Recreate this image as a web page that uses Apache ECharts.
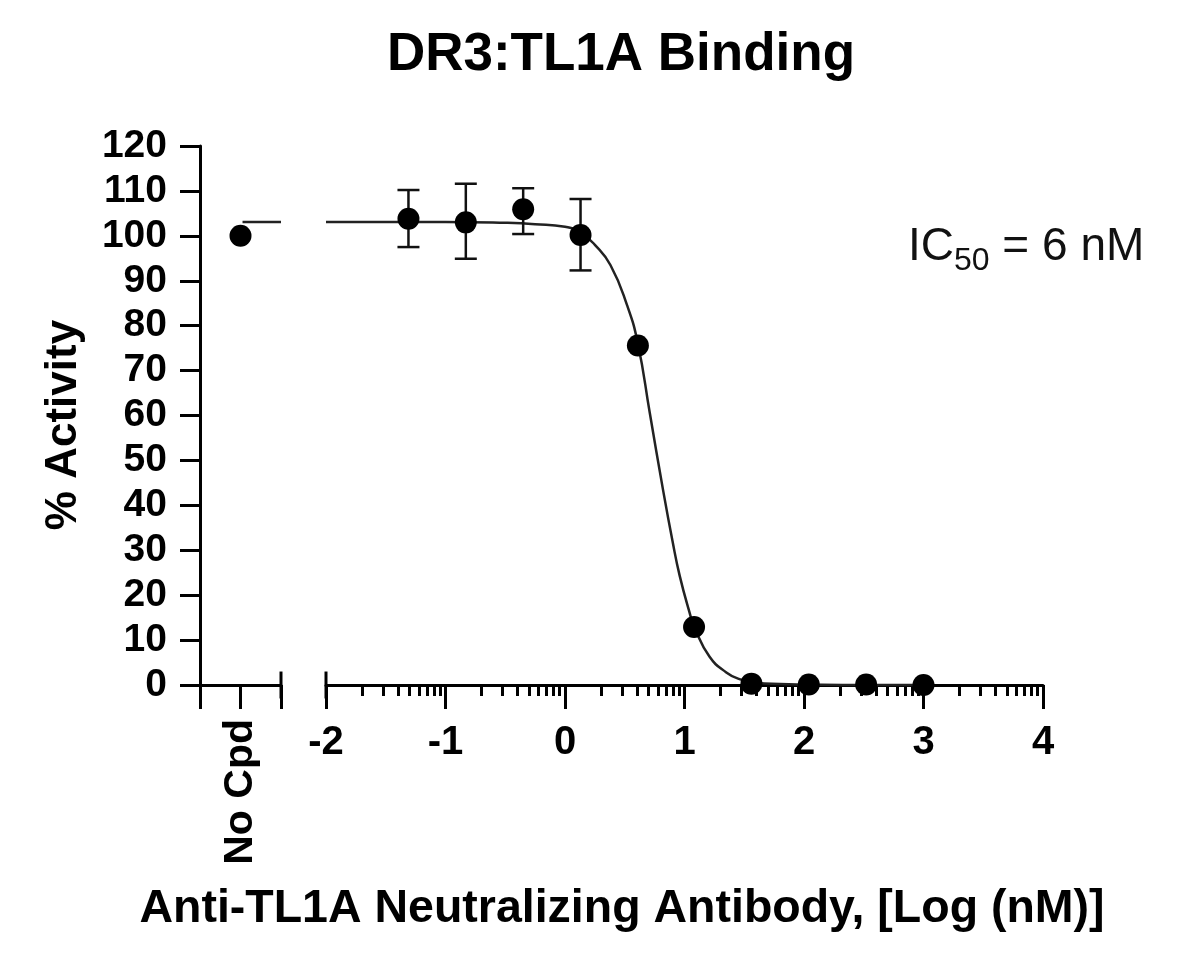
<!DOCTYPE html>
<html>
<head>
<meta charset="utf-8">
<script src="https://cdn.jsdelivr.net/npm/echarts@6/dist/echarts.min.js"></script>
<style>
html,body{margin:0;padding:0;background:#fff;}
#chart{width:1200px;height:956px;}
</style>
</head>
<body>
<div id="chart"></div>
<script>
// ---- data ----
const titleText = 'DR3:TL1A Binding';
const xAxisTitle = 'Anti-TL1A Neutralizing Antibody, [Log (nM)]';
const yAxisTitle = '% Activity';
const noCpdLabel = 'No Cpd';
const icMain = 'IC';
const icSub = '50';
const icRest = ' = 6 nM';

// No compound control
const noCpdX = [1];
const noCpdY = [100];

// Dose points, log(nM)
const logDose = [-1.31, -0.83, -0.35, 0.13, 0.61, 1.08, 1.56, 2.04, 2.52, 3.0];
const activity = [103.8, 103.0, 105.9, 100.2, 75.6, 12.9, 0.3, 0.1, 0.1, 0.0];
const errHigh = [110.2, 111.6, 110.6, 108.2, null, null, null, null, null, null];
const errLow  = [97.5, 94.9, 100.4, 92.3, null, null, null, null, null, null];

// Fitted curve
const curveX = [-2.0, -1.5, -1.0, -0.5, -0.25, 0.0, 0.13, 0.25, 0.38, 0.52, 0.61, 0.71, 0.82, 0.9, 0.96, 1.05, 1.08, 1.21, 1.35, 1.46, 1.6, 1.8, 2.0, 2.5, 3.0];
const curveY = [103.1, 103.1, 103.1, 102.9, 102.6, 102.0, 100.7, 98.0, 93.5, 84.5, 76.0, 60.5, 43.5, 32.0, 24.3, 15.4, 13.0, 6.3, 2.8, 1.3, 0.5, 0.2, 0.1, 0.0, 0.0];
// short stretch of the fit drawn in the "No Cpd" segment
const curve0X = [1.05, 2];
const curve0Y = [103.1, 103.1];

// axis ticks
const yTicks = {min: 0, max: 120, interval: 10};
const xTicks = {min: -2, max: 4, interval: 1};
const decades = [-2, -1, 0, 1, 2, 3];
const minorMultipliers = [2, 3, 4, 5, 6, 7, 8, 9];
const minorTickValues = decades.flatMap(d => minorMultipliers.map(k => d + Math.log10(k)));

const FONT = "'Liberation Sans', Arial, Helvetica, sans-serif";
const BLACK = '#000';

// text measurement for the IC50 annotation pieces
const measureCtx = document.createElement('canvas').getContext('2d');
function textWidth(txt, font) { measureCtx.font = font; return measureCtx.measureText(txt).width; }
const icFontMain = "46px " + FONT;
const icFontSub = "32px " + FONT;
const icLeft = 908;
const wMain = textWidth(icMain, icFontMain);
const wSub = textWidth(icSub, icFontSub);

const chart = echarts.init(document.getElementById('chart'));

const option = {
  animation: false,
  backgroundColor: '#fff',
  title: [
    {
      text: titleText, left: 621, top: 29, textAlign: 'center', padding: 0,
      textStyle: {fontFamily: FONT, fontSize: 53, fontWeight: 'bold', color: BLACK, lineHeight: 53}
    },
    {
      text: xAxisTitle, left: 622, top: 886, textAlign: 'center', padding: 0,
      textStyle: {fontFamily: FONT, fontSize: 46.5, fontWeight: 'bold', color: BLACK, lineHeight: 46}
    }
  ],
  graphic: [
    {
      type: 'text', x: 64, y: 425, rotation: Math.PI / 2,
      style: {text: yAxisTitle, font: "bold 44px " + FONT, fill: BLACK, align: 'center', verticalAlign: 'middle'}
    },
    {
      type: 'text', x: icLeft, y: 247,
      style: {text: icMain, font: icFontMain, fill: '#111', align: 'left', verticalAlign: 'middle'}
    },
    {
      type: 'text', x: icLeft + wMain, y: 261,
      style: {text: icSub, font: icFontSub, fill: '#111', align: 'left', verticalAlign: 'middle'}
    },
    {
      type: 'text', x: icLeft + wMain + wSub, y: 247,
      style: {text: icRest, font: icFontMain, fill: '#111', align: 'left', verticalAlign: 'middle'}
    }
  ],
  grid: [
    {left: 200, top: 146, width: 81, height: 539},
    {left: 326, top: 146, width: 717, height: 539}
  ],
  xAxis: [
    {
      gridIndex: 0, type: 'value', min: 0, max: 2, interval: 1,
      axisLine: {show: true, onZero: false, lineStyle: {color: BLACK, width: 3}},
      axisTick: {show: true, length: 24, lineStyle: {color: BLACK, width: 3}},
      axisLabel: {
        show: true, customValues: noCpdX, rotate: 90, margin: 34,
        formatter: () => noCpdLabel,
        fontFamily: FONT, fontSize: 41, fontWeight: 'bold', color: BLACK
      },
      splitLine: {show: false}
    },
    {
      gridIndex: 1, type: 'value', min: xTicks.min, max: xTicks.max, interval: xTicks.interval,
      axisLine: {show: true, onZero: false, lineStyle: {color: BLACK, width: 3}},
      axisTick: {show: true, length: 24, lineStyle: {color: BLACK, width: 3}},
      axisLabel: {show: true, margin: 38, fontFamily: FONT, fontSize: 40, fontWeight: 'bold', color: BLACK},
      splitLine: {show: false}
    },
    {
      gridIndex: 1, type: 'value', min: xTicks.min, max: xTicks.max, position: 'bottom',
      axisLine: {show: false},
      axisTick: {show: true, customValues: minorTickValues, length: 11, lineStyle: {color: BLACK, width: 3}},
      axisLabel: {show: false},
      splitLine: {show: false}
    }
  ],
  yAxis: [
    {
      gridIndex: 0, type: 'value', min: yTicks.min, max: yTicks.max, interval: yTicks.interval,
      axisLine: {show: true, lineStyle: {color: BLACK, width: 3}},
      axisTick: {show: true, length: 20, lineStyle: {color: BLACK, width: 3}},
      axisLabel: {show: true, margin: 33, fontFamily: FONT, fontSize: 39, fontWeight: 'bold', color: BLACK},
      splitLine: {show: false}
    },
    {
      gridIndex: 1, type: 'value', min: yTicks.min, max: yTicks.max, interval: yTicks.interval,
      show: false, splitLine: {show: false}
    }
  ],
  series: [
    // axis-break end caps
    {
      type: 'line', xAxisIndex: 0, yAxisIndex: 0, clip: false, symbol: 'none', silent: true,
      data: [[2, -3], [2, 3]], lineStyle: {color: BLACK, width: 3}, z: 3
    },
    {
      type: 'line', xAxisIndex: 1, yAxisIndex: 1, clip: false, symbol: 'none', silent: true,
      data: [[-2, -3], [-2, 3]], lineStyle: {color: BLACK, width: 3}, z: 3
    },
    // fit curve
    {
      type: 'line', xAxisIndex: 0, yAxisIndex: 0, symbol: 'none', clip: false,
      data: curve0X.map((x, i) => [x, curve0Y[i]]),
      lineStyle: {color: '#222', width: 2.5}, z: 4
    },
    {
      type: 'line', xAxisIndex: 1, yAxisIndex: 1, symbol: 'none', smooth: 0.5, clip: false,
      data: curveX.map((x, i) => [x, curveY[i]]),
      lineStyle: {color: '#222', width: 2.5}, z: 4
    },
    // error bars
    {
      type: 'custom', xAxisIndex: 1, yAxisIndex: 1, z: 5, silent: true,
      data: logDose.map((x, i) => [x, errLow[i], errHigh[i]]).filter(d => d[1] != null),
      renderItem: function (params, api) {
        const x = api.value(0);
        const lo = api.coord([x, api.value(1)]);
        const hi = api.coord([x, api.value(2)]);
        const hw = 11;
        const st = {stroke: '#111', lineWidth: 2.5};
        return {
          type: 'group',
          children: [
            {type: 'line', shape: {x1: lo[0], y1: lo[1], x2: hi[0], y2: hi[1]}, style: st},
            {type: 'line', shape: {x1: hi[0] - hw, y1: hi[1], x2: hi[0] + hw, y2: hi[1]}, style: st},
            {type: 'line', shape: {x1: lo[0] - hw, y1: lo[1], x2: lo[0] + hw, y2: lo[1]}, style: st}
          ]
        };
      }
    },
    // points
    {
      type: 'scatter', xAxisIndex: 1, yAxisIndex: 1, symbol: 'circle', symbolSize: 22, clip: false,
      data: logDose.map((x, i) => [x, activity[i]]),
      itemStyle: {color: BLACK, opacity: 1}, z: 6
    },
    {
      type: 'scatter', xAxisIndex: 0, yAxisIndex: 0, symbol: 'circle', symbolSize: 22, clip: false,
      data: noCpdX.map((x, i) => [x, noCpdY[i]]),
      itemStyle: {color: BLACK, opacity: 1}, z: 6
    }
  ]
};

chart.setOption(option);
</script>
</body>
</html>
